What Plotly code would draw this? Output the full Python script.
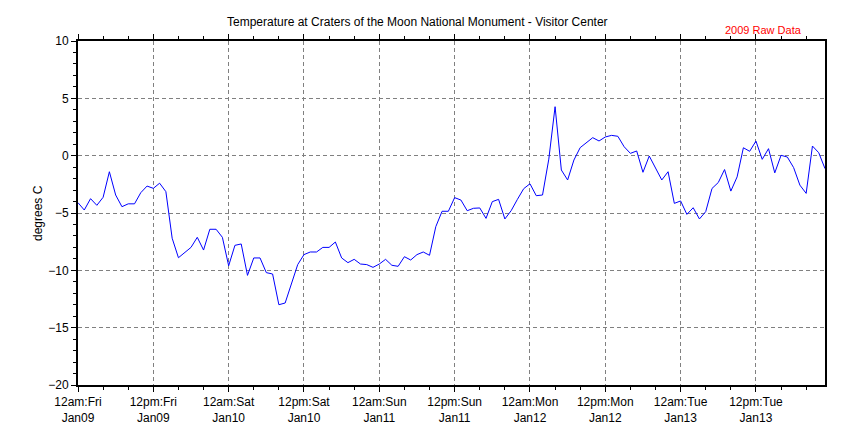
import plotly.graph_objects as go

hours = list(range(120))
temps = [
    -4.1, -4.74, -3.75, -4.33, -3.63, -1.4, -3.43, -4.45, -4.2, -4.2,
    -3.23, -2.65, -2.85, -2.4, -3.14, -7.2, -8.9, -8.46, -8.0, -7.12,
    -8.23, -6.42, -6.42, -7.12, -9.6, -7.82, -7.7, -10.44, -8.92, -8.92,
    -10.2, -10.32, -13.0, -12.85, -11.25, -9.5, -8.63, -8.4, -8.4, -8.0,
    -8.0, -7.53, -8.92, -9.33, -9.04, -9.45, -9.5, -9.74, -9.45, -9.04,
    -9.56, -9.65, -8.81, -9.1, -8.63, -8.4, -8.69, -6.19, -4.85, -4.85,
    -3.66, -3.87, -4.8, -4.59, -4.56, -5.47, -4.01, -3.81, -5.52, -4.8,
    -3.81, -2.88, -2.45, -3.49, -3.43, -0.3, 4.27, -1.25, -2.12, -0.38,
    0.7, 1.16, 1.57, 1.28, 1.63, 1.77, 1.69, 0.78, 0.2, 0.41,
    -1.45, -0.03, -1.1, -2.12, -1.4, -4.16, -3.95, -5.12, -4.54, -5.52,
    -4.88, -2.86, -2.34, -1.21, -3.09, -1.85, 0.69, 0.38, 1.27, -0.32,
    0.61, -1.5, 0.03, -0.12, -1.04, -2.57, -3.29, 0.84, 0.26, -1.13,
]

tick_hours = [0, 12, 24, 36, 48, 60, 72, 84, 96, 108]
tick_labels = [
    "12am:Fri<br>Jan09", "12pm:Fri<br>Jan09", "12am:Sat<br>Jan10", "12pm:Sat<br>Jan10",
    "12am:Sun<br>Jan11", "12pm:Sun<br>Jan11", "12am:Mon<br>Jan12", "12pm:Mon<br>Jan12",
    "12am:Tue<br>Jan13", "12pm:Tue<br>Jan13",
]

title_text = "Temperature at Craters of the Moon National Monument - Visitor Center"
subtitle_text = "2009 Raw Data"
y_title = "degrees C"

FONT = "Liberation Sans, Arial, sans-serif"
OFF = 8  # page body margin
W, H = 850 - OFF, 425 - OFF
L, R, T, B = 78, 825, 41, 385  # plot area in page pixels
PW, PH = R - L, B - T

fig = go.Figure()
fig.add_trace(go.Scatter(
    x=hours, y=temps, mode="lines",
    line=dict(color="#0000FF", width=1),
    hoverinfo="x+y", showlegend=False,
))

fig.update_layout(
    width=W, height=H,
    margin=dict(l=L - OFF, r=850 - R, t=T - OFF, b=425 - B, autoexpand=False),
    paper_bgcolor="white", plot_bgcolor="white",
    font=dict(family=FONT, size=12, color="black"),
    annotations=[
        dict(text=title_text, xref="paper", yref="paper",
             x=(417 - L) / PW, y=(B - 22) / PH,
             xanchor="center", yanchor="middle", showarrow=False,
             font=dict(family=FONT, size=12, color="black")),
        dict(text=subtitle_text, xref="paper", yref="paper",
             x=(763 - L) / PW, y=(B - 30) / PH,
             xanchor="center", yanchor="middle", showarrow=False,
             font=dict(family=FONT, size=11, color="red")),
        dict(text=y_title, xref="paper", yref="paper",
             x=(38 - L) / PW, y=(B - 213) / PH, textangle=-90,
             xanchor="center", yanchor="middle", showarrow=False,
             font=dict(family=FONT, size=12, color="black")),
    ],
)

fig.update_xaxes(
    range=[0, 119], tickvals=tick_hours, ticktext=tick_labels, automargin=False,
    showgrid=True, gridcolor="#808080", gridwidth=1, griddash="4px,3px",
    showline=True, linecolor="black", linewidth=2, mirror="ticks",
    ticks="outside", ticklen=5, tickcolor="black",
    minor=dict(dtick=4, tick0=0, ticks="outside", ticklen=3, tickcolor="black", showgrid=False),
    zeroline=False, tickfont=dict(family=FONT, size=12, color="black"),
)
fig.update_yaxes(
    range=[-20, 10], tickvals=[-20, -15, -10, -5, 0, 5, 10], automargin=False,
    showgrid=True, gridcolor="#808080", gridwidth=1, griddash="4px,3px",
    showline=True, linecolor="black", linewidth=2, mirror=True,
    ticks="outside", ticklen=5, tickcolor="black",
    minor=dict(dtick=1, tick0=0, ticks="outside", ticklen=3, tickcolor="black", showgrid=False),
    zeroline=False, tickfont=dict(family=FONT, size=12, color="black"),
)

fig.write_html("out.html")
